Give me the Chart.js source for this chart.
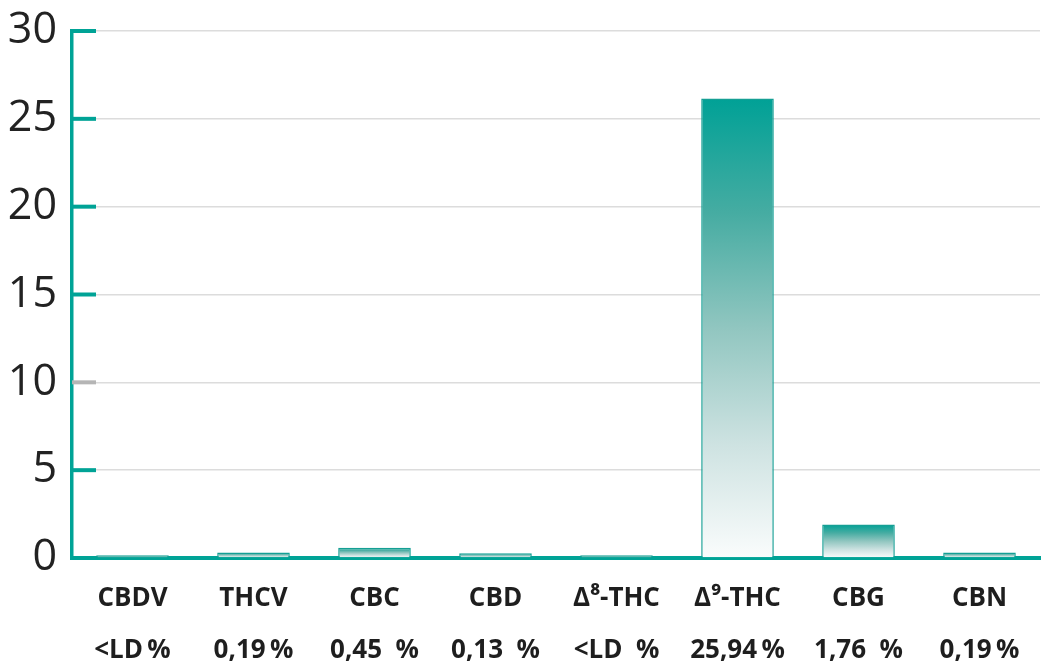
<!DOCTYPE html>
<html>
<head>
<meta charset="utf-8">
<script src="https://cdn.jsdelivr.net/npm/chart.js@4.4.0/dist/chart.umd.min.js"></script>
<style>
html,body{margin:0;padding:0;background:#fff;}
#wrap{width:1041px;height:664px;position:relative;}
</style>
</head>
<body>
<div id="wrap"><canvas id="c" width="1041" height="664"></canvas></div>
<script>
const categories = ["CBDV", "THCV", "CBC", "CBD", "\u0394\u2078-THC", "\u0394\u2079-THC", "CBG", "CBN"];
const percentLabels = ["<LD\u2009%", "0,19\u2009%", "0,45  %", "0,13  %", "<LD  %", "25,94\u2009%", "1,76  %", "0,19\u2009%"];
const values = [0.15, 0.32, 0.59, 0.27, 0.15, 26.16, 1.91, 0.32];
const yTicks = [0, 5, 10, 15, 20, 25, 30];

const TEAL = '#00a396';

const innerTicks = {
  id: 'innerTicks',
  afterDraw(chart) {
    const ctx = chart.ctx, y = chart.scales.y, left = chart.chartArea.left;
    ctx.save();
    ctx.lineWidth = 4;
    yTicks.forEach(v => {
      if (v === 0) return;
      const py = y.getPixelForValue(v);
      ctx.strokeStyle = v === 10 ? '#b5b5b5' : TEAL;
      ctx.beginPath();
      ctx.moveTo(left, py);
      ctx.lineTo(left + 24, py);
      ctx.stroke();
    });
    ctx.restore();
  }
};

function barGradient(context) {
  const chart = context.chart;
  const ys = chart.scales && chart.scales.y;
  if (!ys || context.raw === undefined) return TEAL;
  const top = ys.getPixelForValue(context.raw);
  const base = ys.getPixelForValue(0);
  if (!isFinite(top) || !isFinite(base) || base - top < 1) return TEAL;
  const g = chart.ctx.createLinearGradient(0, top, 0, base);
  g.addColorStop(0, 'rgb(0,161,150)');
  g.addColorStop(0.25, 'rgb(70,172,162)');
  g.addColorStop(0.5, 'rgb(145,198,192)');
  g.addColorStop(0.75, 'rgb(205,226,225)');
  g.addColorStop(1, 'rgb(250,252,252)');
  return g;
}

new Chart(document.getElementById('c'), {
  type: 'bar',
  data: {
    labels: categories.map((c, i) => [c, percentLabels[i]]),
    datasets: [{
      data: values,
      backgroundColor: barGradient,
      borderColor: '#159f94',
      borderWidth: 1.5,
      borderSkipped: 'bottom',
      barPercentage: 0.6,
      categoryPercentage: 1
    }]
  },
  options: {
    responsive: false,
    animation: false,
    events: [],
    layout: { padding: { top: 31, right: 1, left: 0, bottom: 0 } },
    plugins: { legend: { display: false }, tooltip: { enabled: false } },
    scales: {
      x: {
        grid: { display: false, drawTicks: false },
        border: { color: TEAL, width: 4 },
        afterFit(scale) { scale.height = 106; },
        ticks: {
          color: '#1e1e1e',
          padding: 15,
          maxRotation: 0,
          autoSkip: false,
          font: { family: "'Open Sans', 'Noto Sans', sans-serif", size: 26, weight: 'bold', lineHeight: 2.0 }
        }
      },
      y: {
        min: 0,
        max: 30,
        afterFit(scale) { scale.width = 72; scale.paddingTop = 0; scale.paddingBottom = 0; },
        afterBuildTicks(scale) { scale.ticks = yTicks.map(v => ({ value: v })); },
        grid: { color: '#dcdcdc', lineWidth: 1.5, drawTicks: false },
        border: { color: TEAL, width: 3.5 },
        ticks: {
          color: '#222',
          padding: 15,
          font: { family: "'Open Sans', 'Noto Sans', sans-serif", size: 43, weight: 'normal', lineHeight: 0.8 }
        }
      }
    }
  },
  plugins: [innerTicks]
});
</script>
</body>
</html>
